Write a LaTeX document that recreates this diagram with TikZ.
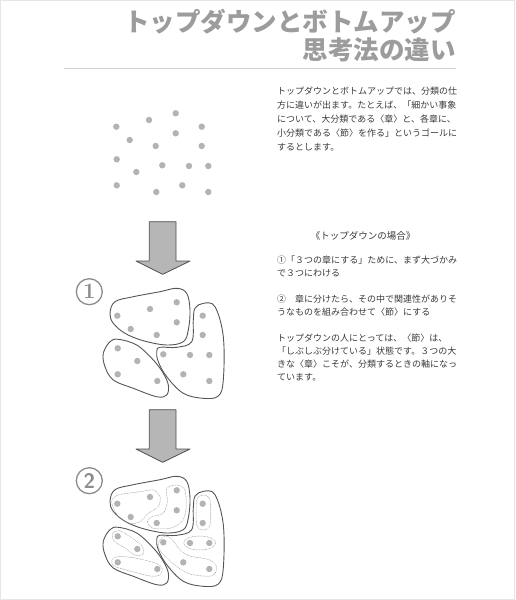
\documentclass[tikz,border=0pt]{standalone}
\usepackage{fontspec}
\newfontfamily\jpfont{Noto Sans CJK JP}
\usetikzlibrary{positioning}
\definecolor{dotgray}{HTML}{B3B3B3}
\definecolor{linegray}{HTML}{555555}
\definecolor{dotline}{HTML}{9A9A9A}
\definecolor{arrowgray}{HTML}{B6B6B6}
\definecolor{arrowline}{HTML}{4E4E4E}
\definecolor{textgray}{HTML}{3A3A3A}
\definecolor{titlegray}{HTML}{9C9C9C}
\definecolor{rulegray}{HTML}{D2D2D2}
\definecolor{framegray}{HTML}{E6E6E6}
\definecolor{numgray}{HTML}{8C8C8C}
% dots in the first grouping, shifted for the other two stages
\newcommand\grainlist{117.3/315.7,150/309,176.7/302.3,130.7/329,156.7/335,176.7/322.3,
202.7/315.7,202.7/335,163.3/354.3,190/355,209.3/355,183.3/374.3,209.3/381,
117.7/348.3,137.3/361,117.7/374.3,157.3/381}
\begin{document}
\begin{tikzpicture}[x=1pt,y=-1pt,line join=round,line cap=round]
\tikzset{grain/.style={fill=dotgray},
blob/.style={draw=linegray,line width=0.9pt},
subblob/.style={draw=dotline,densely dotted,line width=0.5pt},
bigarrow/.style={fill=arrowgray,draw=arrowline,line width=0.8pt},
txt/.style={font=\jpfont\fontsize{9}{13}\selectfont,text=textgray,inner sep=0pt,align=left},
heading/.style={font=\jpfont\bfseries\fontsize{25.5}{28}\selectfont,text=titlegray,inner sep=0pt},
numcirc/.style={circle,draw=numgray,line width=1.3pt,minimum size=26pt,inner sep=0pt,text=numgray}}
\useasboundingbox (0,0) rectangle (515,600);
\draw[framegray] (0.5,0.5) rectangle (514.5,599.5);
% title
\node[heading,anchor=east] (titleA) at (456,22) {トップダウンとボトムアップ};
\node[heading,anchor=east] (titleB) at (456,50) {思考法の違い};
\draw[rulegray,line width=0.8pt] (64,68)--(456,68);
% text column
\node[txt,font=\jpfont\fontsize{9}{14}\selectfont,anchor=north west] (intro) at (277,87) {トップダウンとボトムアップでは、分類の仕\\
方に違いが出ます。たとえば、「細かい事象\\
について、大分類である〈章〉と、各章に、\\
小分類である〈節〉を作る」というゴールに\\
するとします。};
\node[txt,font=\jpfont\fontsize{9.5}{13}\selectfont] (case) at (363,236) {《トップダウンの場合》};
\node[txt,anchor=north west] (stepone) at (277,255.5) {①「３つの章にする」ために、まず大づかみ\\
で３つにわける};
\node[txt,anchor=north west] (steptwo) at (277,294.5) {②　章に分けたら、その中で関連性がありそ\\
うなものを組み合わせて〈節〉にする};
\node[txt,anchor=north west] (summary) at (277,333.5) {トップダウンの人にとっては、〈節〉は、\\
「しぶしぶ分けている」状態です。３つの大\\
きな〈章〉こそが、分類するときの軸になっ\\
ています。};
% dots
\foreach \dx/\dy in {-1/-189,0/0,0/188}
\foreach \x/\y in \grainlist
\fill[grain] (\x+\dx,\y+\dy) circle (3.2pt);
% arrows
\foreach \dy in {0,188}
\draw[bigarrow] (149.3,221.7+\dy)--(176,221.7+\dy)--(176,261+\dy)--(190,261+\dy)
--(162.7,274.3+\dy)--(136,261+\dy)--(149.3,261+\dy)--cycle;
% chapters
\foreach \dy in {0,188}{
\begin{scope}[shift={(0,\dy)}]
\draw[blob] plot[smooth cycle,tension=0.6] coordinates {(110,313.3) (115,301.7) (133.3,296.7) (160,291.7) (176.7,288.3) (186.7,293.3) (190,310) (188.3,330) (183.3,341.7) (166.7,345) (143.3,340.7) (125,333.3) (113.3,323.3)};
\draw[blob] plot[smooth cycle,tension=0.6] coordinates {(203.3,303.3) (215,306.7) (223.3,336.7) (223.3,380) (218.3,396) (203.3,398.3) (183.3,393.3) (166.7,376.7) (158.3,361.7) (156.7,351.7) (160,347.3) (176.7,347.3) (191.7,341.7) (193.3,320) (195,308.3)};
\draw[blob] plot[smooth cycle,tension=0.6] coordinates {(110,341.7) (118.3,339.3) (136.7,345) (153.3,360) (163.3,373.3) (168.3,385) (166.7,395) (156.7,396.7) (133.3,388.3) (113.3,380) (105,366.7) (103.3,353.3)};
\end{scope}}
% sections
\begin{scope}[shift={(0,188)}]
\draw[subblob] plot[smooth cycle] coordinates {(111.7,313.7) (118.3,307) (140,303.7) (153.3,302) (160,308.7) (158.3,318.7) (148.3,325.3) (140,333.7) (130,335.3) (118.3,328.7)};
\draw[subblob] plot[smooth cycle] coordinates {(166.7,300.3) (176.7,297) (185,302) (186,322) (181.7,333.7) (170,340.3) (153.3,340.3) (147.3,333.7) (151.7,328.7) (163.3,325.3) (167.3,313.7)};
\draw[subblob] plot[smooth cycle] coordinates {(196.7,312) (203.3,307) (210,312) (210,337) (203.3,342) (196.7,337)};
\draw[subblob] (199.7,355) ellipse (16pt and 7pt);
\draw[subblob] plot[smooth cycle] coordinates {(160,352) (165,348) (172,351) (180,362) (190,368) (210,372) (217,380) (211,388) (190,386) (176,378) (163,366) (158,358)};
\draw[subblob] plot[smooth cycle] coordinates {(113,345) (120,342.7) (132,350) (142,358) (143,366) (135,367) (125,360) (114,353)};
\draw[subblob] plot[smooth cycle] coordinates {(112,372) (118,368.5) (135,370) (155,375) (162,380) (160,387) (150,388) (130,383) (114,378)};
\end{scope}
% stage numbers
\node[numcirc,font=\bfseries\fontsize{22}{22}\selectfont] (stageone) at (89.3,291.7) {1};
\node[numcirc,font=\sffamily\bfseries\fontsize{21}{21}\selectfont] (stagetwo) at (89.3,480.7) {2};
\end{tikzpicture}
\end{document}
